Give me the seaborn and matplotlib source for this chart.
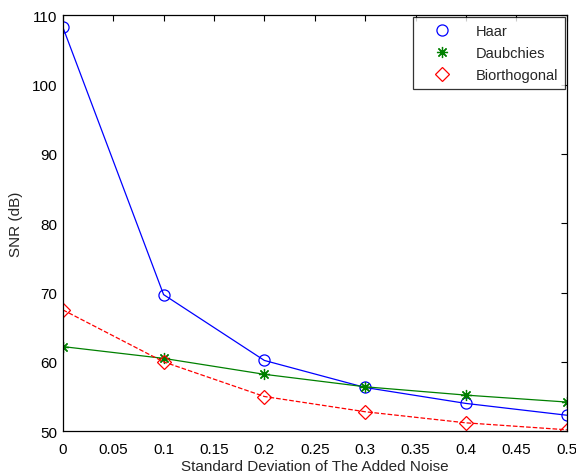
import numpy as np
import pandas as pd
import matplotlib
matplotlib.use("Agg")
import matplotlib.pyplot as plt
import seaborn as sns

noise = [0, 0.1, 0.2, 0.3, 0.4, 0.5]
haar = [108.3, 69.7, 60.2, 56.3, 54.0, 52.3]
daubechies = [62.2, 60.5, 58.2, 56.4, 55.2, 54.2]
biorthogonal = [67.5, 60.0, 55.0, 52.8, 51.2, 50.2]
series_names = ["Haar", "Daubchies", "Biorthogonal"]

sns.set_theme(style="white")
plt.rcParams['font.family'] = ['Liberation Sans', 'DejaVu Sans']

df = pd.DataFrame({
    "noise": noise * 3,
    "snr": haar + daubechies + biorthogonal,
    "wavelet": [series_names[0]] * 6 + [series_names[1]] * 6 + [series_names[2]] * 6,
})

fig = plt.figure(figsize=(5.76, 4.77), dpi=100)
ax = fig.add_axes([0.109, 0.094, 0.875, 0.872])

styles = {
    "Haar": dict(color="blue", marker="o", linestyle="-", mfc="none", ms=8),
    "Daubchies": dict(color="#008000", marker=(8, 2, 0), linestyle="-", mfc="#008000", ms=8),
    "Biorthogonal": dict(color="red", marker="D", linestyle="--", mfc="none", ms=7),
}
for name in series_names:
    st = styles[name]
    sub = df[df["wavelet"] == name]
    sns.lineplot(data=sub, x="noise", y="snr", ax=ax, label=name,
                 color=st["color"], linestyle=st["linestyle"], linewidth=0.9,
                 marker=st["marker"], markersize=st["ms"],
                 markerfacecolor=st["mfc"], markeredgecolor=st["color"],
                 markeredgewidth=0.9)

ax.set_xlim(0, 0.5)
ax.set_ylim(50, 110)
ax.set_xticks(np.arange(0, 0.51, 0.05))
ax.set_xticklabels(["0", "0.05", "0.1", "0.15", "0.2", "0.25", "0.3", "0.35", "0.4", "0.45", "0.5"])
ax.set_yticks(np.arange(50, 111, 10))
ax.tick_params(direction="in", top=True, right=True, length=4, width=0.8,
               labelsize=11, colors="black", pad=4)
ax.tick_params(axis="x", pad=8)
for sp in ax.spines.values():
    sp.set_visible(True)
    sp.set_color("black")
    sp.set_linewidth(0.9)
ax.set_xlabel("Standard Deviation of The Added Noise", fontsize=11, labelpad=2)
ax.set_ylabel("SNR (dB)", fontsize=11, labelpad=6)

leg = ax.legend(loc="upper right", fontsize=10.5, frameon=True, fancybox=False,
                edgecolor="black", borderaxespad=0.1, handlelength=3.0,
                labelspacing=0.55, borderpad=0.5, handletextpad=0.8)
leg.get_frame().set_linewidth(0.9)
for line in leg.get_lines():
    line.set_linestyle("none")

fig.savefig("out.png", dpi=100, facecolor="white")
